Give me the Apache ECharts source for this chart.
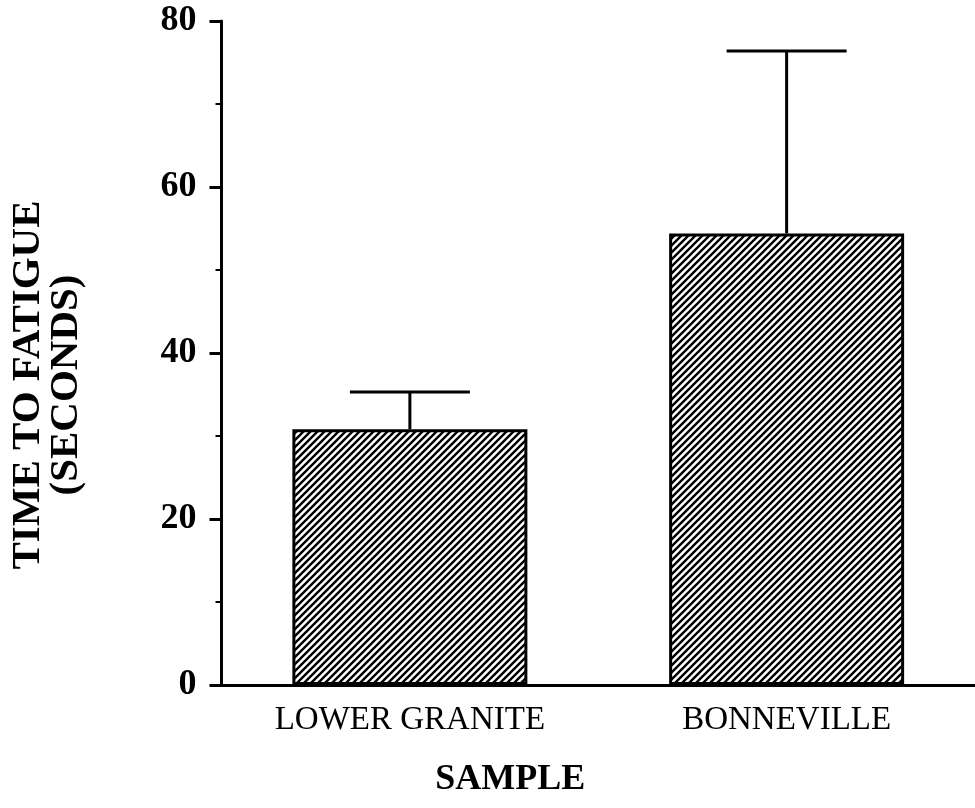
<!DOCTYPE html>
<html>
<head>
<meta charset="utf-8">
<script src="https://cdn.jsdelivr.net/npm/echarts@6/dist/echarts.min.js"></script>
<style>html,body{margin:0;padding:0;background:#fff}#c{width:975px;height:808px}</style>
</head>
<body>
<div id="c"></div>
<script>
const categories = ['LOWER GRANITE', 'BONNEVILLE'];
const meanValues = [30.8, 54.4];
const upperValues = [35.3, 76.4];
const yTicks = [0, 20, 40, 60, 80];

const FONT = '"Liberation Serif", "Times New Roman", serif';

function hatch() {
  const s = 7;
  const cv = document.createElement('canvas');
  cv.width = s; cv.height = s;
  const ctx = cv.getContext('2d');
  ctx.fillStyle = '#fff';
  ctx.fillRect(0, 0, s, s);
  ctx.strokeStyle = '#000';
  ctx.lineWidth = 2.4;
  ctx.beginPath();
  ctx.moveTo(-1, s + 1); ctx.lineTo(s + 1, -1);
  ctx.moveTo(-2, 2); ctx.lineTo(2, -2);
  ctx.moveTo(s - 2, s + 2); ctx.lineTo(s + 2, s - 2);
  ctx.stroke();
  return cv;
}

const chart = echarts.init(document.getElementById('c'), null, {renderer: 'canvas'});
const errData = categories.map((c, i) => [i, meanValues[i], upperValues[i]]);

chart.setOption({
  animation: false,
  backgroundColor: '#fff',
  grid: {left: 220, right: -5, top: 21, bottom: 123, containLabel: false},
  xAxis: {
    type: 'category',
    data: categories,
    axisLine: {lineStyle: {color: '#000', width: 3}},
    axisTick: {show: false},
    axisLabel: {color: '#000', fontFamily: FONT, fontSize: 33, margin: 19},
    name: 'SAMPLE',
    nameLocation: 'middle',
    nameGap: 77,
    nameTextStyle: {color: '#000', fontFamily: FONT, fontSize: 36, fontWeight: 'bold', padding: [0, 176, 0, 0]}
  },
  yAxis: {
    type: 'value',
    min: yTicks[0],
    max: yTicks[yTicks.length - 1],
    interval: 20,
    axisLine: {show: true, lineStyle: {color: '#000', width: 3}},
    axisTick: {show: true, inside: false, length: 12, lineStyle: {color: '#000', width: 3}},
    minorTick: {show: true, splitNumber: 2, length: 6, lineStyle: {color: '#000', width: 2}},
    splitLine: {show: false},
    axisLabel: {color: '#000', fontFamily: FONT, fontSize: 36, fontWeight: 'bold', margin: 25},
    name: 'TIME TO FATIGUE\n(SECONDS)',
    nameLocation: 'middle',
    nameRotate: 90,
    nameGap: 136,
    nameTextStyle: {color: '#000', fontFamily: FONT, fontSize: 41, fontWeight: 'bold', lineHeight: 38, padding: [0, 64, 0, 0]}
  },
  series: [
    {
      type: 'bar',
      data: meanValues,
      barWidth: 235,
      itemStyle: {color: {image: hatch(), repeat: 'repeat'}, borderColor: '#000', borderWidth: 3}
    },
    {
      type: 'custom',
      data: errData,
      z: 5,
      renderItem: function (params, api) {
        const x = api.value(0);
        const base = api.coord([x, api.value(1)]);
        const top = api.coord([x, api.value(2)]);
        const hw = 60;
        return {
          type: 'group',
          children: [
            {type: 'line', shape: {x1: base[0], y1: base[1], x2: top[0], y2: top[1]}, style: {stroke: '#000', lineWidth: 3}},
            {type: 'line', shape: {x1: top[0] - hw, y1: top[1], x2: top[0] + hw, y2: top[1]}, style: {stroke: '#000', lineWidth: 3}}
          ]
        };
      }
    }
  ]
});
</script>
</body>
</html>
